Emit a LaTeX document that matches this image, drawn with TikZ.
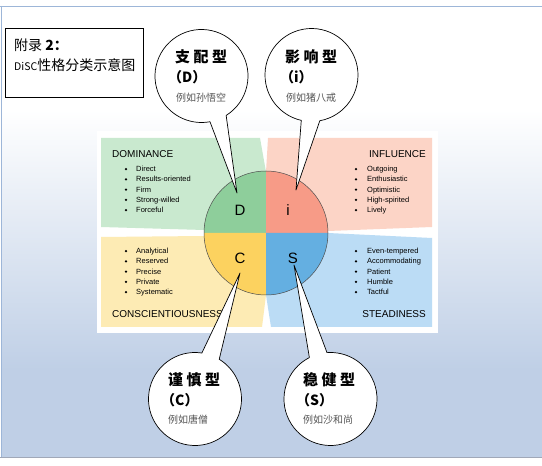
\documentclass[tikz,border=0pt]{standalone}
\usepackage{fontspec}
\setmainfont{Liberation Sans}
\newfontfamily\cjk{Noto Sans CJK SC}
\usetikzlibrary{calc}
\definecolor{gq}{HTML}{8ECE9B}
\definecolor{gp}{HTML}{C9E9CF}
\definecolor{pq}{HTML}{F79B87}
\definecolor{pp}{HTML}{FCD4C6}
\definecolor{yq}{HTML}{FCD25F}
\definecolor{yp}{HTML}{FDEBB4}
\definecolor{bq}{HTML}{64AFE1}
\definecolor{bp}{HTML}{BBDCF5}
\definecolor{bgb}{HTML}{BFCFE6}
\definecolor{frameline}{HTML}{9DB6D8}
\definecolor{bottomline}{HTML}{A0A8B8}
\definecolor{smallgray}{HTML}{555555}
\tikzset{
  balloon/.style={fill=white,draw=black,line width=0.7pt,line join=round},
  btitle/.style={anchor=west,inner sep=0pt,font=\cjk\bfseries\fontsize{15}{15}\selectfont},
  bparen/.style={anchor=west,inner sep=0pt,font=\cjk\bfseries\fontsize{14}{14}\selectfont},
  bsmall/.style={anchor=west,inner sep=0pt,text=smallgray,font=\cjk\fontsize{10}{10}\selectfont},
  heading/.style={inner sep=0pt,font=\fontsize{10}{10}\selectfont},
  item/.style={anchor=base west,inner sep=0pt,font=\fontsize{7.5}{7.5}\selectfont},
  dot/.style={circle,fill=black,inner sep=0pt,minimum size=2.6pt},
  letter/.style={inner sep=0pt,font=\fontsize{15}{15}\selectfont},
}
\begin{document}
\begin{tikzpicture}[x=1pt,y=1pt]
\useasboundingbox (0,0) rectangle (542,466);
% background
\fill[white] (0,0) rectangle (542,466);
\fill[white] (1,356) rectangle (542,460);
\shade[top color=white,bottom color=bgb] (1,96) rectangle (542,356.5);
\fill[bgb] (1,9) rectangle (542,96.5);
\draw[frameline,line width=0.8pt] (0,460) -- (542,460);
\draw[frameline,line width=0.8pt] (1,460) -- (1,9);
\draw[bottomline,line width=0.8pt] (0,8.5) -- (542,8.5);
% title box
\node[draw=black,line width=0.8pt,minimum width=138pt,minimum height=69pt,inner sep=0pt] (title) at (74,403.5) {};
\node[anchor=west,inner sep=0pt,font=\cjk\fontsize{14}{14}\selectfont] (t1) at (14,421) {附录 \textbf{2：}};
\node[anchor=west,inner sep=0pt,font=\cjk\fontsize{14}{14}\selectfont] (t2) at (14,401) {{\fontsize{10.5}{10.5}\selectfont DiSC}性格分类示意图};
% white panel
\fill[white] (97,133) rectangle (438,335);
% panels
\fill[gp] (101,328) -- (260,328) -- (266,294) -- (266,234) -- (204,236) -- (101,239) -- cycle;
\fill[pp] (268,328) -- (432,328) -- (432,239) -- (328,235) -- (266,234) -- (266,294) -- cycle;
\fill[yp] (101,229) -- (204,230) -- (266,232) -- (266,171) -- (262,139) -- (101,139) -- cycle;
\fill[bp] (271,139) -- (432,139) -- (432,228) -- (328,233) -- (266,232) -- (266,171) -- cycle;
% circle quadrants
\coordinate (cc) at (266,233);
\fill[gq] (cc) -- ++(90:62) arc[start angle=90,end angle=180,radius=62] -- cycle;
\fill[pq] (cc) -- ++(0:62) arc[start angle=0,end angle=90,radius=62] -- cycle;
\fill[yq] (cc) -- ++(180:62) arc[start angle=180,end angle=270,radius=62] -- cycle;
\fill[bq] (cc) -- ++(270:62) arc[start angle=270,end angle=360,radius=62] -- cycle;
\draw[black!70,line width=0.5pt] (cc) circle[radius=62];
\node[letter] (lD) at (240,256) {D};
\node[letter] (li) at (288,256) {i};
\node[letter] (lC) at (240,208) {C};
\node[letter] (lS) at (293,208) {S};
% headings
\node[heading,anchor=base west] (hD) at (112,308.4) {DOMINANCE};
\node[heading,anchor=base east] (hI) at (426,308.4) {INFLUENCE};
\node[heading,anchor=base west] (hC) at (112,148.4) {CONSCIENTIOUSNESS};
\node[heading,anchor=base east] (hS) at (426,148.4) {STEADINESS};
% items
\foreach \t [count=\k from 0] in {Direct,Results-oriented,Firm,Strong-willed,Forceful}{
  \node[dot] (dD\k) at (126,296.9-\k*10.25) {};
  \node[item] (iD\k) at (136,294.3-\k*10.25) {\t};
}
\foreach \t [count=\k from 0] in {Outgoing,Enthusiastic,Optimistic,High-spirited,Lively}{
  \node[dot] (dI\k) at (356,296.9-\k*10.25) {};
  \node[item] (iI\k) at (367,294.3-\k*10.25) {\t};
}
\foreach \t [count=\k from 0] in {Analytical,Reserved,Precise,Private,Systematic}{
  \node[dot] (dC\k) at (126,214.9-\k*10.25) {};
  \node[item] (iC\k) at (136,212.3-\k*10.25) {\t};
}
\foreach \t [count=\k from 0] in {Even-tempered,Accommodating,Patient,Humble,Tactful}{
  \node[dot] (dS\k) at (356,214.9-\k*10.25) {};
  \node[item] (iS\k) at (367,212.3-\k*10.25) {\t};
}
% balloons
\coordinate (cD) at (201.5,390);
\coordinate (cI) at (311.5,391);
\coordinate (cC) at (195,67);
\coordinate (cS) at (330.5,67);
\coordinate (tipD) at (237,273);
\coordinate (tipI) at (296,276);
\coordinate (tipC) at (240,193);
\coordinate (tipS) at (294,201);
\draw[balloon] (tipD) -- ($(cD)+(-58:46.5)$) arc[start angle=-58,end angle=280.5,radius=46.5] -- cycle;
\draw[balloon] (tipI) -- ($(cI)+(-79.7:46.5)$) arc[start angle=-79.7,end angle=257.3,radius=46.5] -- cycle;
\draw[balloon] (tipC) -- ($(cC)+(81.5:46.5)$) arc[start angle=81.5,end angle=418.6,radius=46.5] -- cycle;
\draw[balloon] (tipS) -- ($(cS)+(117:46.5)$) arc[start angle=117,end angle=454.3,radius=46.5] -- cycle;
% balloon texts
\node[btitle] (bD1) at (175,409) {支\hspace{3.5pt}配\hspace{3.5pt}型};
\node[bparen] (bD2) at (168,389) {（D）};
\node[bsmall] (bD3) at (176,368) {例如孙悟空};
\node[btitle] (bI1) at (285,409) {影\hspace{3.5pt}响\hspace{3.5pt}型};
\node[bparen] (bI2) at (280,389) {（i）};
\node[bsmall] (bI3) at (286,368) {例如猪八戒};
\node[btitle] (bC1) at (168,86) {谨\hspace{3.5pt}慎\hspace{3.5pt}型};
\node[bparen] (bC2) at (161,66) {（C）};
\node[bsmall] (bC3) at (168,46) {例如唐僧};
\node[btitle] (bS1) at (303,86) {稳\hspace{3.5pt}健\hspace{3.5pt}型};
\node[bparen] (bS2) at (296,66) {（S）};
\node[bsmall] (bS3) at (303,46) {例如沙和尚};
\end{tikzpicture}
\end{document}
